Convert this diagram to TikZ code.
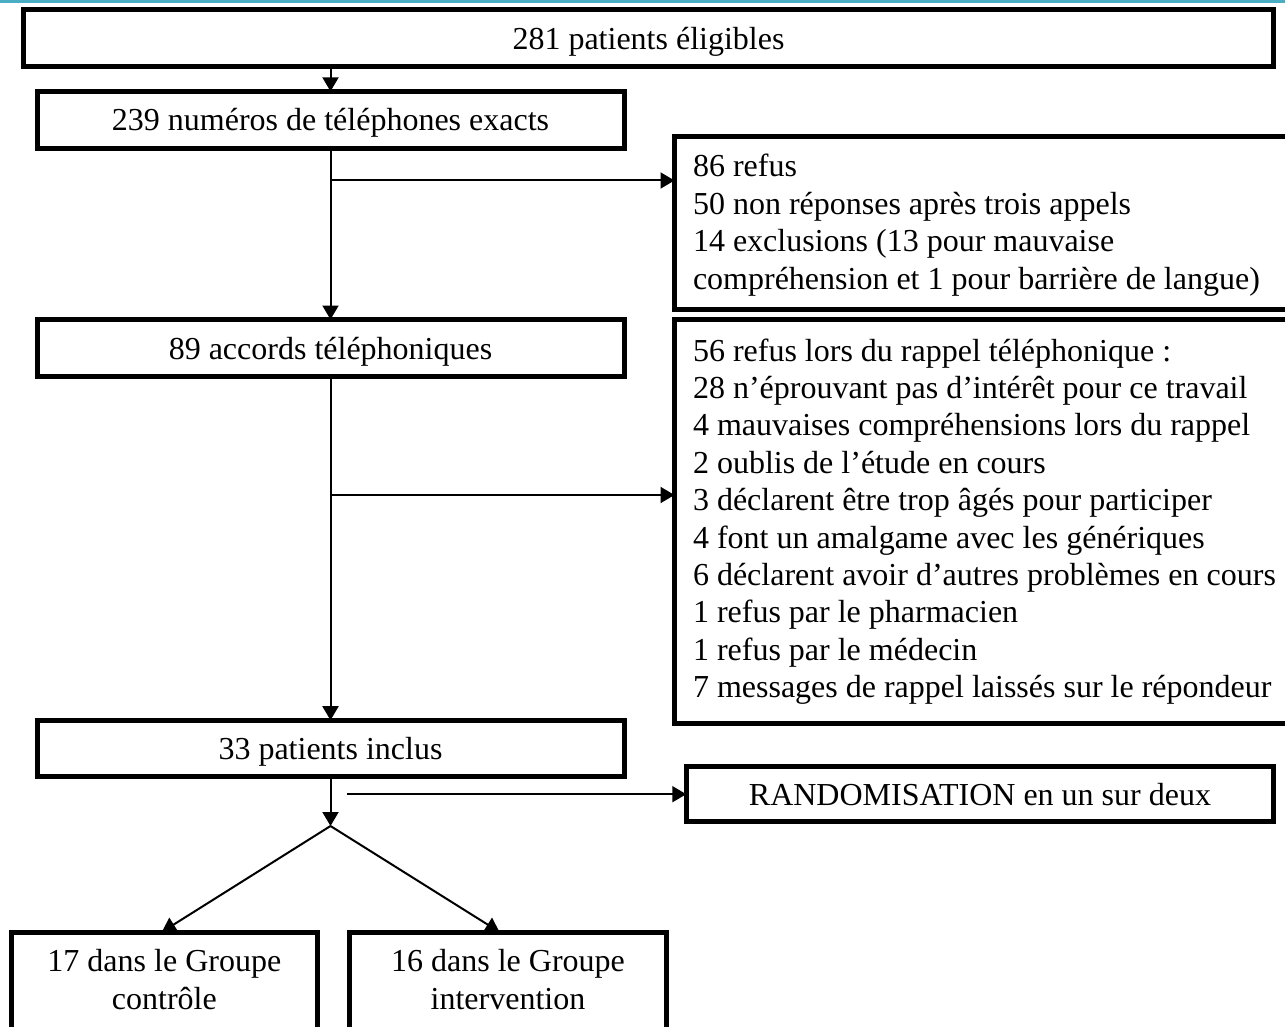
\documentclass[tikz,border=0pt]{standalone}
\usepackage{fontspec}
\setmainfont{Liberation Serif}
\usetikzlibrary{arrows.meta,calc}
\definecolor{topteal}{RGB}{75,172,198}
\begin{document}
\begin{tikzpicture}[x=1pt,y=-1pt,
  every node/.style={font=\fontsize{32}{37.5}\selectfont, inner sep=0pt, outer sep=0pt},
  box/.style={draw, line width=5pt, rectangle, text height=27pt, text depth=5pt},
  conn/.style={line width=2pt},
  arr/.style={conn, -{Triangle[length=14pt,width=16pt]}},
  line/.style={anchor=base west},
  cline/.style={anchor=base}]
\useasboundingbox (0,0) rectangle (1285,1027);
\fill[white] (0,0) rectangle (1285,1027);
\clip (0,0) rectangle (1285,1027);
\fill[topteal] (0,0) rectangle (1285,2.7);

\node[box, minimum width=1250.4pt, minimum height=57pt] (b1) at (648.5,38.5) {281 patients éligibles};
\node[box, minimum width=587pt, minimum height=56.7pt] (b2) at (330.5,119.7) {239 numéros de téléphones exacts};
\node[box, minimum width=587pt, minimum height=57pt] (b3) at (330.5,348) {89 accords téléphoniques};
\node[box, minimum width=625.5pt, minimum height=172.3pt] (b4) at (987.25,222.85) {};
\node[box, minimum width=625.5pt, minimum height=403.6pt] (b5) at (987.25,521.5) {};
\node[box, minimum width=587pt, minimum height=56.6pt] (b6) at (330.5,748.5) {33 patients inclus};
\node[box, minimum width=587.5pt, minimum height=55pt] (b7) at (980,794.2) {RANDOMISATION en un sur deux};
\node[box, minimum width=306.3pt, minimum height=108pt] (b8) at (164.35,986) {};
\node[box, minimum width=317.6pt, minimum height=108pt] (b9) at (508,986) {};

\foreach \t [count=\i] in {86 refus,
  50 non réponses après trois appels,
  14 exclusions (13 pour mauvaise,
  compréhension et 1 pour barrière de langue)}
  \node[line] (r\i) at (693,{176.7+37.5*(\i-1)}) {\t};

\foreach \t [count=\i] in {56 refus lors du rappel téléphonique :,
  28 n’éprouvant pas d’intérêt pour ce travail,
  4 mauvaises compréhensions lors du rappel,
  2 oublis de l’étude en cours,
  3 déclarent être trop âgés pour participer,
  4 font un amalgame avec les génériques,
  6 déclarent avoir d’autres problèmes en cours,
  1 refus par le pharmacien,
  1 refus par le médecin,
  7 messages de rappel laissés sur le répondeur}
  \node[line] (s\i) at (693,{361+37.4*(\i-1)}) {\t};

\node[cline] (g1a) at (164.35,971.7) {17 dans le Groupe};
\node[cline] (g1b) at (164.35,1009.7) {contrôle};
\node[cline] (g2a) at (508,971.7) {16 dans le Groupe};
\node[cline] (g2b) at (508,1009.7) {intervention};

\coordinate (j1) at (330.5,180.5);
\coordinate (j2) at (330.5,495);
\coordinate (apex) at (330.5,826);
\coordinate (r0) at (347,794.2);

\draw[arr] (b1.south -| b2.north) -- (b2.north);
\draw[arr] (b2.south) -- (b3.north);
\draw[arr] (j1) -- (j1 -| b4.west);
\draw[arr] (b3.south) -- (b6.north);
\draw[arr] (j2) -- (j2 -| b5.west);
\draw[arr] (b6.south) -- (apex);
\draw[arr] (r0) -- (b7.west);
\draw[arr] (apex) -- ($(b8.north)+(-2.5,0)$);
\draw[arr] (apex) -- ($(b9.north)+(-8.5,0)$);
\end{tikzpicture}
\end{document}
